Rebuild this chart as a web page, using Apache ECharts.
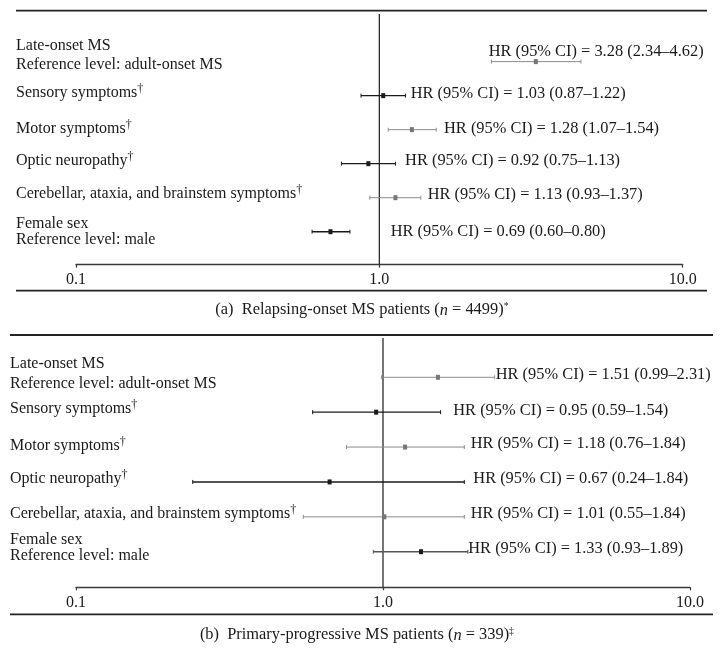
<!DOCTYPE html>
<html><head><meta charset="utf-8">
<script src="https://cdn.jsdelivr.net/npm/echarts@6/dist/echarts.min.js"></script>
<style>html,body{margin:0;padding:0;background:#fff}#c{width:723px;height:654px}</style>
</head><body><div id="c"></div>
<script>
// ---------------- data ----------------
const rowNames = ['Late-onset MS', 'Sensory symptoms', 'Motor symptoms', 'Optic neuropathy',
  'Cerebellar, ataxia, and brainstem symptoms', 'Female sex'];
const rowRefs = ['Reference level: adult-onset MS', '', '', '', '', 'Reference level: male'];
const rowDagger = [false, true, true, true, true, false];

const hrA   = [3.28, 1.03, 1.28, 0.92, 1.13, 0.69];
const lowA  = [2.34, 0.87, 1.07, 0.75, 0.93, 0.60];
const highA = [4.62, 1.22, 1.54, 1.13, 1.37, 0.80];

const hrB   = [1.51, 0.95, 1.18, 0.67, 1.01, 1.33];
const lowB  = [0.99, 0.59, 0.76, 0.24, 0.55, 0.93];
const highB = [2.31, 1.54, 1.84, 1.84, 1.84, 1.89];

const tickValues = [0.1, 1, 10];
const tickLabels = ['0.1', '1.0', '10.0'];
const refValue = 1;

const captionA = ['(a)  Relapsing-onset MS patients (', 'n', ' = 4499)', '*'];
const captionB = ['(b)  Primary-progressive MS patients (', 'n', ' = 339)', '\u2021'];

// ---------------- styles / layout ----------------
const FF = '"Liberation Serif", "DejaVu Serif", serif';
const FS = 16;
const FS_HR = 16.4;
const INK = '#1a1a1a';
const GRAY_LINE = '#8c8c8c';
const GRAY_MARK = '#777777';

const yRangeA = [-1.40, 5.97];
const yRangeB = [-1.126, 6.02];

const styleA = {
  labelX: 16, yRange: yRangeA,
  lineColor: [GRAY_LINE, INK, GRAY_LINE, INK, GRAY_LINE, INK],
  markColor: [GRAY_MARK, INK, GRAY_MARK, INK, GRAY_MARK, INK],
  thick: [false, true, false, true, false, true],
  hrPos: [['low', -2.7, -10], ['high', 5.2, -2.4], ['high', 7.8, -1.4], ['high', 9.6, -3], ['high', 6.9, -2.7], ['one', 11.4, 0]],
  lab1: [-15.7, -4, -1.4, -3.7, -4.4, -8.4],
  lab2: [3.3, 0, 0, 0, 0, 8.3]
};
const styleB = {
  labelX: 10, yRange: yRangeB,
  lineColor: [GRAY_LINE, INK, GRAY_LINE, INK, GRAY_LINE, '#555555'],
  markColor: [GRAY_MARK, INK, GRAY_MARK, INK, GRAY_MARK, INK],
  thick: [false, true, false, true, false, true],
  hrPos: [['high', 1.1, -2.3], ['high', 12.7, -1.5], ['high', 6.4, -3.8], ['high', 9, -3.7], ['high', 6.4, -2.9], ['high', 0.4, -3.5]],
  lab1: [-13, -4.5, -2, -4.3, -3.6, -11.8],
  lab2: [7, 0, 0, 0, 0, 3.9]
};

function fmt(v) { return v.toFixed(2); }

function buildSeries(p, hr, low, high, st) {
  return {
    type: 'custom', xAxisIndex: p, yAxisIndex: p, silent: true, animation: false, clip: false,
    data: hr.map((v, i) => [low[i], v, high[i], i]),
    encode: { x: [0, 1, 2], y: 3 },
    renderItem: function (params, api) {
      const i = api.value(3);
      const lo = api.coord([api.value(0), i]);
      const mid = api.coord([api.value(1), i]);
      const hi = api.coord([api.value(2), i]);
      const one = api.coord([refValue, i]);
      const y = mid[1];
      const lc = st.lineColor[i];
      const lw = st.thick[i] ? 1.4 : 1;
      const kids = [];
      if (i === 0) {
        const top = api.coord([refValue, st.yRange[0]]);
        const bot = api.coord([refValue, st.yRange[1]]);
        kids.push({ type: 'line', shape: { x1: top[0], y1: top[1], x2: bot[0], y2: bot[1] }, style: { stroke: '#2b2b2b', lineWidth: 1.3 } });
      }
      kids.push(
        { type: 'line', shape: { x1: lo[0], y1: y, x2: hi[0], y2: y }, style: { stroke: lc, lineWidth: lw } },
        { type: 'line', shape: { x1: lo[0], y1: y - 2, x2: lo[0], y2: y + 2 }, style: { stroke: lc, lineWidth: 1 } },
        { type: 'line', shape: { x1: hi[0], y1: y - 2, x2: hi[0], y2: y + 2 }, style: { stroke: lc, lineWidth: 1 } },
        { type: 'rect', shape: { x: mid[0] - 2, y: y - 2.5, width: 4, height: 5 }, style: { fill: st.markColor[i] } }
      );
      const hp = st.hrPos[i];
      const ax = hp[0] === 'low' ? lo[0] : (hp[0] === 'one' ? one[0] : hi[0]);
      kids.push({
        type: 'text',
        style: {
          x: ax + hp[1], y: y + hp[2],
          text: 'HR (95% CI) = ' + fmt(api.value(1)) + ' (' + fmt(api.value(0)) + '\u2013' + fmt(api.value(2)) + ')',
          fontFamily: FF, fontSize: FS_HR, fill: INK, align: 'left', verticalAlign: 'middle'
        }
      });
      const name = rowNames[i];
      kids.push({
        type: 'text',
        style: {
          x: st.labelX, y: y + st.lab1[i],
          text: rowDagger[i] ? '{m|' + name + '}{d|\u2020}' : name,
          fontFamily: FF, fontSize: FS, fill: INK, align: 'left', verticalAlign: 'middle',
          rich: {
            m: { fontFamily: FF, fontSize: FS, fill: INK, lineHeight: 18, verticalAlign: 'bottom' },
            d: { fontFamily: FF, fontSize: 12, fill: INK, lineHeight: 10, verticalAlign: 'top' }
          }
        }
      });
      if (rowRefs[i]) {
        kids.push({
          type: 'text',
          style: {
            x: st.labelX, y: y + st.lab2[i], text: rowRefs[i],
            fontFamily: FF, fontSize: FS, fill: INK, align: 'left', verticalAlign: 'middle'
          }
        });
      }
      return { type: 'group', children: kids };
    }
  };
}

function xAxisFor(p) {
  return {
    type: 'log', logBase: 10, gridIndex: p, min: 0.1, max: 10,
    axisLine: { onZero: false, lineStyle: { color: '#3a3a3a', width: 1.3 } },
    axisTick: { show: true, length: 3, lineStyle: { color: '#3a3a3a', width: 1.2 } },
    splitLine: { show: false },
    axisLabel: {
      color: INK, fontFamily: FF, fontSize: FS, margin: 7,
      formatter: function (v) {
        const k = tickValues.findIndex(t => Math.abs(Math.log10(t) - Math.log10(v)) < 1e-6);
        return k >= 0 ? tickLabels[k] : '';
      }
    }
  };
}

function captionText(c) {
  return {
    text: c[0] + '{i|' + c[1] + '}' + c[2] + '{s|' + c[3] + '}',
    rich: {
      i: { fontFamily: FF, fontSize: 16.4, fontStyle: 'italic', fill: INK, lineHeight: 18, verticalAlign: 'bottom' },
      s: { fontFamily: FF, fontSize: 10, fill: INK, lineHeight: 10, verticalAlign: 'top' }
    }
  };
}

const chart = echarts.init(document.getElementById('c'), null, { renderer: 'canvas' });
chart.setOption({
  backgroundColor: '#ffffff',
  animation: false,
  grid: [
    { left: 76, top: 14, width: 606.7, height: 250.7 },
    { left: 76, top: 338, width: 614, height: 249.3 }
  ],
  xAxis: [xAxisFor(0), xAxisFor(1)],
  yAxis: [
    { type: 'value', gridIndex: 0, min: yRangeA[0], max: yRangeA[1], inverse: true, show: false },
    { type: 'value', gridIndex: 1, min: yRangeB[0], max: yRangeB[1], inverse: true, show: false }
  ],
  series: [
    buildSeries(0, hrA, lowA, highA, styleA),
    buildSeries(1, hrB, lowB, highB, styleB)
  ],
  graphic: [
    { type: 'line', shape: { x1: 16, y1: 10.7, x2: 707, y2: 10.7 }, style: { stroke: '#222', lineWidth: 1.8 } },
    { type: 'line', shape: { x1: 16, y1: 290.7, x2: 707, y2: 290.7 }, style: { stroke: '#222', lineWidth: 1.8 } },
    { type: 'line', shape: { x1: 10, y1: 335, x2: 713, y2: 335 }, style: { stroke: '#222', lineWidth: 1.8 } },
    { type: 'line', shape: { x1: 10, y1: 614.3, x2: 713, y2: 614.3 }, style: { stroke: '#222', lineWidth: 1.8 } },
    { type: 'text', x: 362, y: 310, style: Object.assign(captionText(captionA), { fontFamily: FF, fontSize: 16.4, fill: INK, align: 'center', verticalAlign: 'middle' }) },
    { type: 'text', x: 357, y: 635, style: Object.assign(captionText(captionB), { fontFamily: FF, fontSize: 16.4, fill: INK, align: 'center', verticalAlign: 'middle' }) }
  ]
});
</script>
</body></html>
